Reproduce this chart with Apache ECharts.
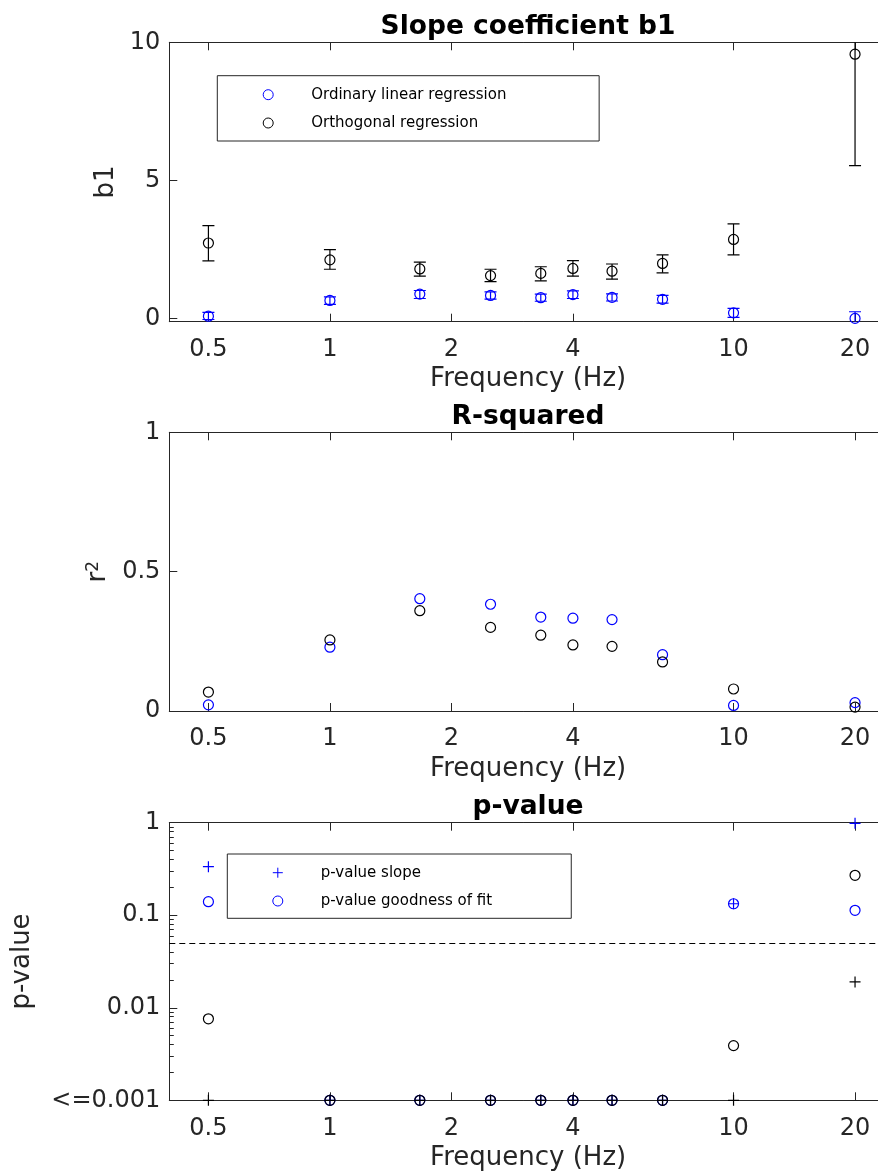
<!DOCTYPE html>
<html><head><meta charset="utf-8">
<script src="https://cdn.jsdelivr.net/npm/echarts@6/dist/echarts.min.js"></script>
<style>html,body{margin:0;padding:0;background:#fff}#c{width:878px;height:1173px}</style>
</head><body><div id="c"></div>
<script>
// ---------- data ----------
const frequencies = [0.5, 1, 1.67, 2.5, 3.33, 4, 5, 6.67, 10, 20];
const xTickValues = [0.5, 1, 2, 4, 10, 20];
const xTickLabels = ['0.5', '1', '2', '4', '10', '20'];

const olsSlope     = [0.08, 0.65, 0.88, 0.83, 0.75, 0.86, 0.76, 0.69, 0.20, 0.00];
const olsSlopeLow  = [-0.04, 0.51, 0.72, 0.70, 0.62, 0.72, 0.63, 0.55, 0.04, -0.24];
const olsSlopeHigh = [0.22, 0.78, 1.01, 0.96, 0.88, 1.00, 0.89, 0.83, 0.36, 0.24];
const orthSlope     = [2.73, 2.12, 1.79, 1.55, 1.63, 1.81, 1.71, 1.99, 2.86, 9.57];
const orthSlopeLow  = [2.08, 1.78, 1.53, 1.33, 1.36, 1.53, 1.42, 1.65, 2.30, 5.53];
const orthSlopeHigh = [3.36, 2.49, 2.04, 1.78, 1.87, 2.09, 1.97, 2.30, 3.42, 13.6];
const b1TickValues = [0, 5, 10];

const olsR2  = [0.022, 0.229, 0.403, 0.383, 0.337, 0.333, 0.328, 0.202, 0.020, 0.030];
const orthR2 = [0.068, 0.255, 0.360, 0.300, 0.272, 0.237, 0.232, 0.176, 0.079, 0.014];
const r2TickValues = [0, 0.5, 1];

const olsPSlope  = [0.335, 0.001, 0.001, 0.001, 0.001, 0.001, 0.001, 0.001, 0.133, 0.985];
const olsPFit    = [0.14, 0.001, 0.001, 0.001, 0.001, 0.001, 0.001, 0.001, 0.133, 0.113];
const orthPSlope = [0.001, 0.001, 0.001, 0.001, 0.001, 0.001, 0.001, 0.001, 0.001, 0.019];
const orthPFit   = [0.0076, 0.001, 0.001, 0.001, 0.001, 0.001, 0.001, 0.001, 0.0039, 0.27];
const pThreshold = 0.05;
const pTickValues = [0.001, 0.01, 0.1, 1];
const pTickLabels = ['<=0.001', '0.01', '0.1', '1'];

// ---------- helpers ----------
const FONT = 'DejaVu Sans';
const AX = '#262626';
const BLUE = '#0000ff';
const BLACK = '#000000';
const lg = Math.log10;
const xMin = lg(0.4), xMax = lg(24);
const xTickLog = xTickValues.map(lg);
const pTickLog = pTickValues.map(lg);
const pMinor = [];
for (let e = -3; e < 0; e++) for (let k = 2; k <= 9; k++) pMinor.push(lg(k * Math.pow(10, e)));

function labelFrom(vals, labels) {
  return function (v) {
    for (let i = 0; i < vals.length; i++) if (Math.abs(vals[i] - v) < 1e-6) return labels[i];
    return '';
  };
}
const PLUS = 'path://M0,5H10M5,0V10';

const grids = [
  { left: 169.3, top: 42.3, width: 717.7, height: 279.4, outerBoundsMode: 'none', containLabel: false },
  { left: 169.3, top: 432.3, width: 717.7, height: 278.7, outerBoundsMode: 'none', containLabel: false },
  { left: 169.3, top: 822.7, width: 717.7, height: 277.6, outerBoundsMode: 'none', containLabel: false }
];

function xPair(gi) {
  const common = {
    type: 'value', gridIndex: gi, min: xMin, max: xMax,
    axisLine: { show: true, onZero: false, lineStyle: { color: AX, width: 1 } },
    axisTick: { show: true, inside: true, length: 8, customValues: xTickLog, lineStyle: { color: AX, width: 1 } },
    splitLine: { show: false }
  };
  return [
    Object.assign({}, common, {
      position: 'bottom',
      name: 'Frequency (Hz)', nameLocation: 'middle', nameGap: 45,
      nameTextStyle: { fontFamily: FONT, fontSize: 26, color: AX },
      axisLabel: { customValues: xTickLog, formatter: labelFrom(xTickLog, xTickLabels), margin: 16,
        fontFamily: FONT, fontSize: 24, color: AX }
    }),
    Object.assign({}, common, { position: 'top', axisLabel: { show: false } })
  ];
}

const yLabelStyle = { margin: 9, fontFamily: FONT, fontSize: 24, color: AX };
const yAxisLine = { show: true, onZero: false, lineStyle: { color: AX, width: 1 } };

const yAxes = [
  { type: 'value', gridIndex: 0, position: 'left', min: -0.12, max: 10,
    name: 'b1', nameLocation: 'middle', nameGap: 42, nameRotate: 90,
    nameTextStyle: { fontFamily: FONT, fontSize: 26, color: AX },
    axisLine: yAxisLine,
    axisTick: { show: true, inside: true, length: 8, customValues: b1TickValues, lineStyle: { color: AX } },
    axisLabel: Object.assign({ customValues: b1TickValues, formatter: v => String(v) }, yLabelStyle),
    splitLine: { show: false } },
  { type: 'value', gridIndex: 1, position: 'left', min: 0, max: 1,
    name: '{r|r}{s|2}', nameLocation: 'middle', nameGap: 56, nameRotate: 90,
    nameTextStyle: { fontFamily: FONT, fontSize: 26, color: AX,
      rich: { r: { fontFamily: FONT, fontSize: 26, color: AX },
              s: { fontFamily: FONT, fontSize: 17, color: AX, verticalAlign: 'top' } } },
    axisLine: yAxisLine,
    axisTick: { show: true, inside: true, length: 8, customValues: r2TickValues, lineStyle: { color: AX } },
    axisLabel: Object.assign({ customValues: r2TickValues, formatter: v => String(v) }, yLabelStyle),
    splitLine: { show: false } },
  { type: 'value', gridIndex: 2, position: 'left', min: -3, max: 0,
    name: 'p-value', nameLocation: 'middle', nameGap: 134, nameRotate: 90,
    nameTextStyle: { fontFamily: FONT, fontSize: 26, color: AX },
    axisLine: yAxisLine,
    axisTick: { show: true, inside: true, length: 8, customValues: pTickLog, lineStyle: { color: AX } },
    axisLabel: Object.assign({ customValues: pTickLog, formatter: labelFrom(pTickLog, pTickLabels) }, yLabelStyle),
    splitLine: { show: false } },
  { type: 'value', gridIndex: 2, position: 'left', min: -3, max: 0,
    axisLine: { show: false, onZero: false },
    axisTick: { show: true, inside: true, length: 4.5, customValues: pMinor, lineStyle: { color: AX } },
    axisLabel: { show: false }, splitLine: { show: false } }
];

function pts(xs, ys, tf) { return xs.map((f, i) => [lg(f), tf ? tf(ys[i]) : ys[i]]); }
function errData(xs, lo, hi) { return xs.map((f, i) => [lg(f), lo[i], hi[i]]); }

function errSeries(name, xi, yi, data, color) {
  return {
    type: 'custom', name: name, xAxisIndex: xi, yAxisIndex: yi, clip: true, silent: true,
    data: data, encode: { x: 0, y: [1, 2] },
    renderItem: function (params, api) {
      const x = api.value(0), lo = api.value(1), hi = api.value(2);
      const a = api.coord([x, lo]), b = api.coord([x, hi]);
      const w = 6;
      const st = { stroke: color, lineWidth: 1.2 };
      return { type: 'group', children: [
        { type: 'line', shape: { x1: a[0], y1: a[1], x2: b[0], y2: b[1] }, style: st },
        { type: 'line', shape: { x1: a[0] - w, y1: a[1], x2: a[0] + w, y2: a[1] }, style: st },
        { type: 'line', shape: { x1: b[0] - w, y1: b[1], x2: b[0] + w, y2: b[1] }, style: st }
      ] };
    }
  };
}

function scatter(name, xi, yi, data, color, symbol, size) {
  return {
    type: 'scatter', name: name, xAxisIndex: xi, yAxisIndex: yi, data: data,
    symbol: symbol, symbolSize: size, silent: true,
    itemStyle: { color: 'rgba(0,0,0,0)', borderColor: color, borderWidth: 1.2, opacity: 1 },
    emphasis: { disabled: true }
  };
}

const series = [
  errSeries('olsErr', 0, 0, errData(frequencies, olsSlopeLow, olsSlopeHigh), BLUE),
  errSeries('orthErr', 0, 0, errData(frequencies, orthSlopeLow, orthSlopeHigh), BLACK),
  scatter('Ordinary linear regression', 0, 0, pts(frequencies, olsSlope), BLUE, 'circle', 10),
  scatter('Orthogonal regression', 0, 0, pts(frequencies, orthSlope), BLACK, 'circle', 10),

  scatter('OLS r2', 2, 1, pts(frequencies, olsR2), BLUE, 'circle', 10),
  scatter('Orth r2', 2, 1, pts(frequencies, orthR2), BLACK, 'circle', 10),

  scatter('p-value slope', 4, 2, pts(frequencies, olsPSlope, lg), BLUE, PLUS, 11),
  scatter('p-value goodness of fit', 4, 2, pts(frequencies, olsPFit, lg), BLUE, 'circle', 10),
  scatter('Orth p slope', 4, 2, pts(frequencies, orthPSlope, lg), BLACK, PLUS, 11),
  Object.assign(scatter('Orth p fit', 4, 2, pts(frequencies, orthPFit, lg), BLACK, 'circle', 10), {
    markLine: { silent: true, symbol: 'none', label: { show: false }, animation: false,
      lineStyle: { color: BLACK, width: 1, type: [6, 4] },
      data: [{ yAxis: lg(pThreshold) }] }
  })
];

const titleStyle = { fontFamily: FONT, fontSize: 26.5, fontWeight: 'bold', color: '#000' };
const legendText = { fontFamily: FONT, fontSize: 15, color: '#000', lineHeight: 15 };
const legendItemStyle = { borderWidth: 1 };

const option = {
  animation: false,
  backgroundColor: '#fff',
  title: [
    { text: 'Slope coefficient b1', left: 528, top: 14, textAlign: 'center', padding: 0, textStyle: titleStyle },
    { text: 'R-squared', left: 528, top: 403.5, textAlign: 'center', padding: 0, textStyle: titleStyle },
    { text: 'p-value', left: 528, top: 794, textAlign: 'center', padding: 0, textStyle: titleStyle }
  ],
  legend: [
    { left: 217.3, top: 75.7, orient: 'vertical', itemWidth: 76, itemHeight: 10, itemGap: 13.3,
      padding: [11.5, 92.7, 10.5, 45.4], borderColor: AX, borderWidth: 1, selectedMode: false,
      itemStyle: legendItemStyle,
      textStyle: legendText, data: ['Ordinary linear regression', 'Orthogonal regression'] },
    { left: 227.3, top: 854, orient: 'vertical', itemWidth: 76, itemHeight: 10, itemGap: 13.3,
      padding: [11.2, 79.1, 9.8, 45], borderColor: AX, borderWidth: 1, selectedMode: false,
      itemStyle: legendItemStyle,
      textStyle: legendText, data: ['p-value slope', 'p-value goodness of fit'] }
  ],
  grid: grids,
  xAxis: [].concat(xPair(0), xPair(1), xPair(2)),
  yAxis: yAxes,
  series: series
};

const chart = echarts.init(document.getElementById('c'), null, { renderer: 'canvas' });
chart.setOption(option);
</script>
</body></html>
